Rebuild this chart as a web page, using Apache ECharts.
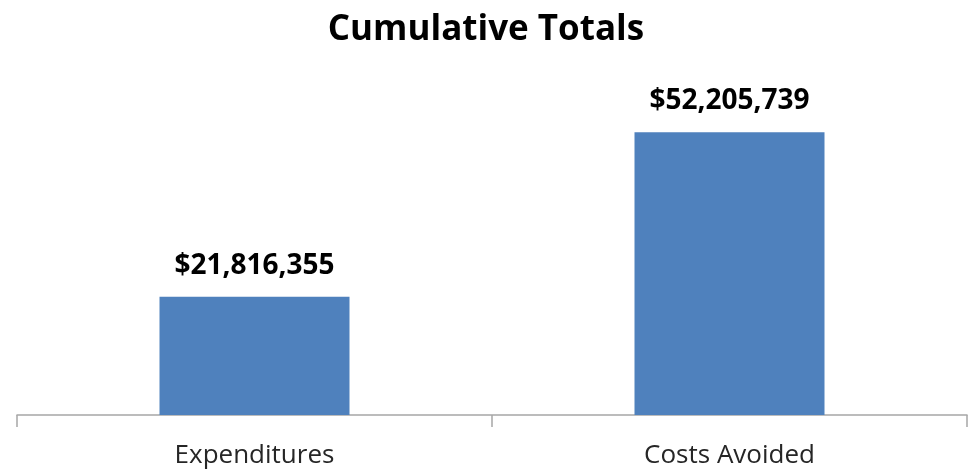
<!DOCTYPE html>
<html>
<head>
<meta charset="utf-8">
<script src="https://cdn.jsdelivr.net/npm/echarts@6/dist/echarts.min.js"></script>
<style>
  html, body { margin: 0; padding: 0; background: #ffffff; }
  #chart { width: 972px; height: 472px; }
</style>
</head>
<body>
<div id="chart"></div>
<script>
// Cumulative program totals
const categories = ['Expenditures', 'Costs Avoided'];
const totals = [21816355, 52205739];

const fontFamily = '"Open Sans", "Noto Sans", sans-serif';

function formatDollars(v) {
  return '$' + Math.round(v).toLocaleString('en-US');
}

const chart = echarts.init(document.getElementById('chart'), null, { renderer: 'canvas' });
chart.setOption({
  animation: false,
  backgroundColor: '#ffffff',
  title: {
    text: 'Cumulative Totals',
    left: 'center',
    top: 8,
    textStyle: { fontFamily, fontWeight: 'bold', fontSize: 35, color: '#000000' }
  },
  grid: { left: 17, right: 5, top: 90, bottom: 57 },
  xAxis: {
    type: 'category',
    data: categories,
    axisLine: { show: true, lineStyle: { color: '#a6a6a6', width: 1.5 } },
    axisTick: { show: true, alignWithLabel: false, length: 12, lineStyle: { color: '#a6a6a6', width: 1.5 } },
    axisLabel: { fontFamily, fontSize: 26, color: '#262626', margin: 28 }
  },
  yAxis: {
    type: 'value',
    min: 0,
    max: 60000000,
    show: false,
    splitLine: { show: false }
  },
  series: [{
    type: 'bar',
    data: totals,
    barWidth: '40%',
    itemStyle: { color: '#4f81bd' },
    label: {
      show: true,
      position: 'top',
      distance: 17,
      formatter: p => formatDollars(p.value),
      fontFamily,
      fontWeight: 'bold',
      fontSize: 28,
      color: '#000000'
    }
  }]
});
</script>
</body>
</html>
